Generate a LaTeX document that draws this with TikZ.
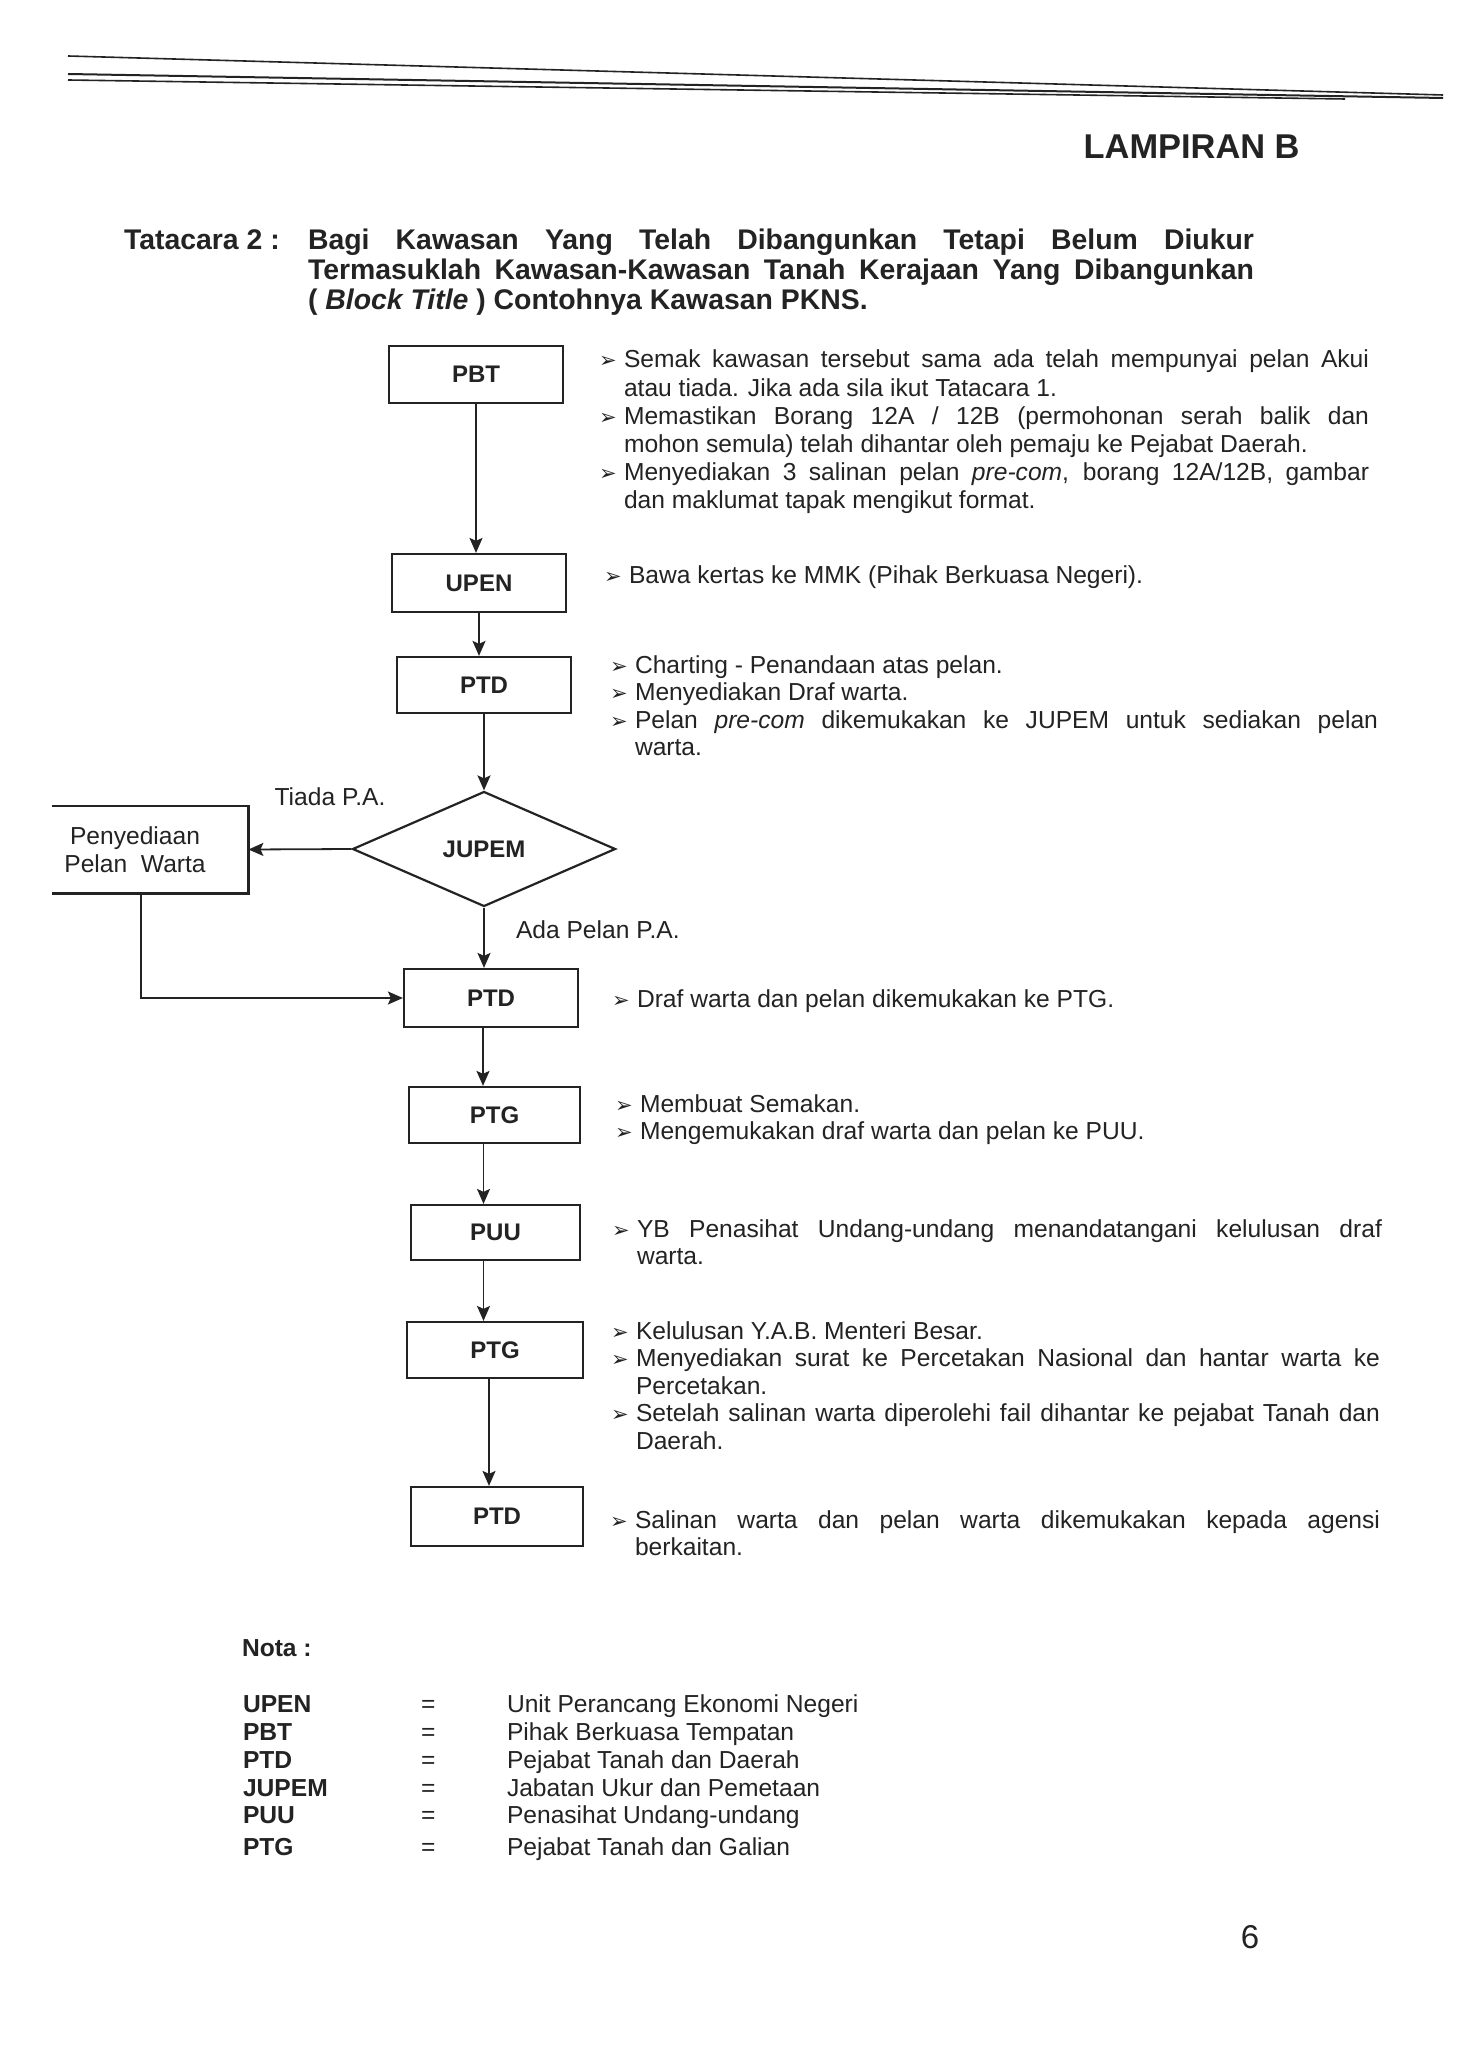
\documentclass[tikz,border=0pt]{standalone}
\usepackage{fontspec}
\setmainfont{Liberation Sans}
\newfontfamily\dejavu{DejaVu Sans}
\usetikzlibrary{shapes.geometric,arrows.meta}
\definecolor{ink}{RGB}{35,35,35}
\newlength{\jw}
\newcommand{\bul}{\makebox[13pt][l]{\hspace*{0.5pt}\raisebox{0pt}{\dejavu\fontsize{10.5}{12}\selectfont ➢}}}
\newcommand{\jl}[1]{\makebox[\jw][s]{#1}}
\begin{document}
\begin{tikzpicture}[x=0.5pt,y=-0.5pt,
  ln/.style={anchor=base west, inner sep=0, outer sep=0, text=ink, font=\fontsize{12.3}{14.1}\selectfont},
  bln/.style={ln, font=\bfseries\fontsize{12.3}{14.1}\selectfont},
  tl/.style={ln, font=\bfseries\fontsize{14.2}{15}\selectfont},
  box/.style={draw=ink, line width=1.1pt, inner sep=0, text=ink, font=\bfseries\fontsize{12}{14}\selectfont},
  arr/.style={draw=ink, line width=0.9pt, -{Stealth[length=7.5pt,width=6.5pt,inset=1.5pt]}},
  rule/.style={draw=ink, line width=0.8pt}]
\useasboundingbox (0,0) rectangle (1460,2048);
\fill[white] (0,0) rectangle (1460,2048);

% header rules
\draw[rule] (68,56) -- (1443,95);
\draw[rule, line width=1pt] (68,74) -- (1443,98);
\draw[rule] (68,80) -- (1345,99);

\node[anchor=base east, inner sep=0, text=ink, font=\bfseries\fontsize{17.2}{20}\selectfont] (lamp) at (1300,159) {LAMPIRAN B};

% title
\setlength{\jw}{473pt}
\node[tl] (tt) at (124,250) {Tatacara 2 :};
\node[tl] (t1) at (308,250) {\jl{Bagi Kawasan Yang Telah Dibangunkan Tetapi Belum Diukur}};
\node[tl] (t2) at (308,280) {\jl{Termasuklah Kawasan-Kawasan Tanah Kerajaan Yang Dibangunkan}};
\node[tl] (t3) at (308,310) {( \textit{Block Title} ) Contohnya Kawasan PKNS.};

% flow boxes
\node[box, minimum width=87pt, minimum height=28.5pt] (pbt) at (476,374.5) {PBT};
\node[box, minimum width=87pt, minimum height=29pt] (upen) at (479,583) {UPEN};
\node[box, minimum width=87pt, minimum height=28pt] (ptd1) at (484,685) {PTD};
\node[diamond, draw=ink, line width=1.1pt, inner sep=0, text=ink, font=\bfseries\fontsize{12}{14}\selectfont,
      minimum width=131.5pt, minimum height=57.5pt] (jupem) at (484,849) {JUPEM};
\node[inner sep=0, text=ink, align=center, minimum width=113pt, minimum height=43.5pt,
      font=\fontsize{12.3}{14.1}\selectfont] (pen) at (135,849.5) {Penyediaan\\Pelan\ \ Warta};
\draw[ink, line width=1.1pt] ([xshift=15pt]pen.north west) -- (pen.north east) -- (pen.south east) -- ([xshift=15pt]pen.south west);
\node[box, minimum width=87pt, minimum height=29pt] (ptd2) at (491,998) {PTD};
\node[box, minimum width=85.5pt, minimum height=28pt] (ptg1) at (494.5,1115) {PTG};
\node[box, minimum width=84.5pt, minimum height=27.5pt] (puu) at (495.5,1232.5) {PUU};
\node[box, minimum width=88pt, minimum height=28pt] (ptg2) at (495,1350) {PTG};
\node[box, minimum width=86pt, minimum height=29.5pt] (ptd3) at (497,1516.5) {PTD};

% labels
\node[ln, anchor=center] (tiada) at (330,797) {Tiada P.A.};
\node[ln, anchor=west] (ada) at (516,930) {Ada Pelan P.A.};

% connectors
\draw[arr] (pbt.south) -- (pbt.south |- upen.north);
\draw[arr] (upen.south) -- (upen.south |- ptd1.north);
\draw[arr] (ptd1.south) -- (jupem.north);
\draw[arr] (jupem.south) -- (jupem.south |- ptd2.north);
\draw[arr] (jupem.west) -- (pen.east);
\draw[arr] ([xshift=3pt]pen.south) |- (ptd2.west);
\draw[arr] ([xshift=-4pt]ptd2.south) -- ([xshift=-4pt]ptd2.south |- ptg1.north);
\draw[arr] ([xshift=-5.5pt]ptg1.south) -- ([xshift=-5.5pt]ptg1.south |- puu.north);
\draw[arr] ([xshift=-6pt]puu.south) -- ([xshift=-6pt]puu.south |- ptg2.north);
\draw[arr] ([xshift=-3pt]ptg2.south) -- ([xshift=-3pt]ptg2.south |- ptd3.north);

% PBT notes
\setlength{\jw}{372.5pt}
\node[ln] (a1) at (598,368) {\bul\jl{Semak kawasan tersebut sama ada telah mempunyai pelan Akui}};
\node[ln] (a2) at (624,396.2) {atau tiada. Jika ada sila ikut Tatacara 1.};
\node[ln] (a3) at (598,424.4) {\bul\jl{Memastikan Borang 12A / 12B (permohonan serah balik dan}};
\node[ln] (a4) at (624,452.6) {mohon semula) telah dihantar oleh pemaju ke Pejabat Daerah.};
\node[ln] (a5) at (598,480.8) {\bul\jl{Menyediakan 3 salinan pelan \textit{pre-com}, borang 12A/12B, gambar}};
\node[ln] (a6) at (624,509) {dan maklumat tapak mengikut format.};

% UPEN notes
\node[ln] (b1) at (603,583) {\bul Bawa kertas ke MMK (Pihak Berkuasa Negeri).};

% PTD notes
\setlength{\jw}{371.5pt}
\node[ln] (c1) at (609,673) {\bul Charting - Penandaan atas pelan.};
\node[ln] (c2) at (609,700.6) {\bul Menyediakan Draf warta.};
\node[ln] (c3) at (609,728.2) {\bul\jl{Pelan \textit{pre-com} dikemukakan ke JUPEM untuk sediakan pelan}};
\node[ln] (c4) at (635,755.8) {warta.};

% PTD 2 notes
\node[ln] (d1) at (611,1007) {\bul Draf warta dan pelan dikemukakan ke PTG.};

% PTG 1 notes
\node[ln] (e1) at (614,1112) {\bul Membuat Semakan.};
\node[ln] (e2) at (614,1139.6) {\bul Mengemukakan draf warta dan pelan ke PUU.};

% PUU notes
\setlength{\jw}{372.5pt}
\node[ln] (f1) at (611,1237) {\bul\jl{YB Penasihat Undang-undang menandatangani kelulusan draf}};
\node[ln] (f2) at (637,1264.6) {warta.};

% PTG 2 notes
\setlength{\jw}{372pt}
\node[ln] (g1) at (610,1339) {\bul Kelulusan Y.A.B. Menteri Besar.};
\node[ln] (g2) at (610,1366.6) {\bul\jl{Menyediakan surat ke Percetakan Nasional dan hantar warta ke}};
\node[ln] (g3) at (636,1394.2) {Percetakan.};
\node[ln] (g4) at (610,1421.8) {\bul\jl{Setelah salinan warta diperolehi fail dihantar ke pejabat Tanah dan}};
\node[ln] (g5) at (636,1449.4) {Daerah.};

% PTD 3 notes
\setlength{\jw}{372.5pt}
\node[ln] (h1) at (609,1528) {\bul\jl{Salinan warta dan pelan warta dikemukakan kepada agensi}};
\node[ln] (h2) at (635,1555.6) {berkaitan.};

% Nota
\node[bln] (nota) at (242,1656) {Nota :};
\node[bln] (k1) at (243,1712) {UPEN};
\node[bln] (k2) at (243,1740) {PBT};
\node[bln] (k3) at (243,1768) {PTD};
\node[bln] (k4) at (243,1796) {JUPEM};
\node[bln] (k5) at (243,1823) {PUU};
\node[bln] (k6) at (243,1855) {PTG};
\node[ln] (q1) at (421,1712) {=};
\node[ln] (q2) at (421,1740) {=};
\node[ln] (q3) at (421,1768) {=};
\node[ln] (q4) at (421,1796) {=};
\node[ln] (q5) at (421,1823) {=};
\node[ln] (q6) at (421,1855) {=};
\node[ln] (v1) at (507,1712) {Unit Perancang Ekonomi Negeri};
\node[ln] (v2) at (507,1740) {Pihak Berkuasa Tempatan};
\node[ln] (v3) at (507,1768) {Pejabat Tanah dan Daerah};
\node[ln] (v4) at (507,1796) {Jabatan Ukur dan Pemetaan};
\node[ln] (v5) at (507,1823) {Penasihat Undang-undang};
\node[ln] (v6) at (507,1855) {Pejabat Tanah dan Galian};

% page number
\node[inner sep=0, text=ink, font=\fontsize{16.5}{18}\selectfont] (pg) at (1250,1937) {6};
\end{tikzpicture}
\end{document}
